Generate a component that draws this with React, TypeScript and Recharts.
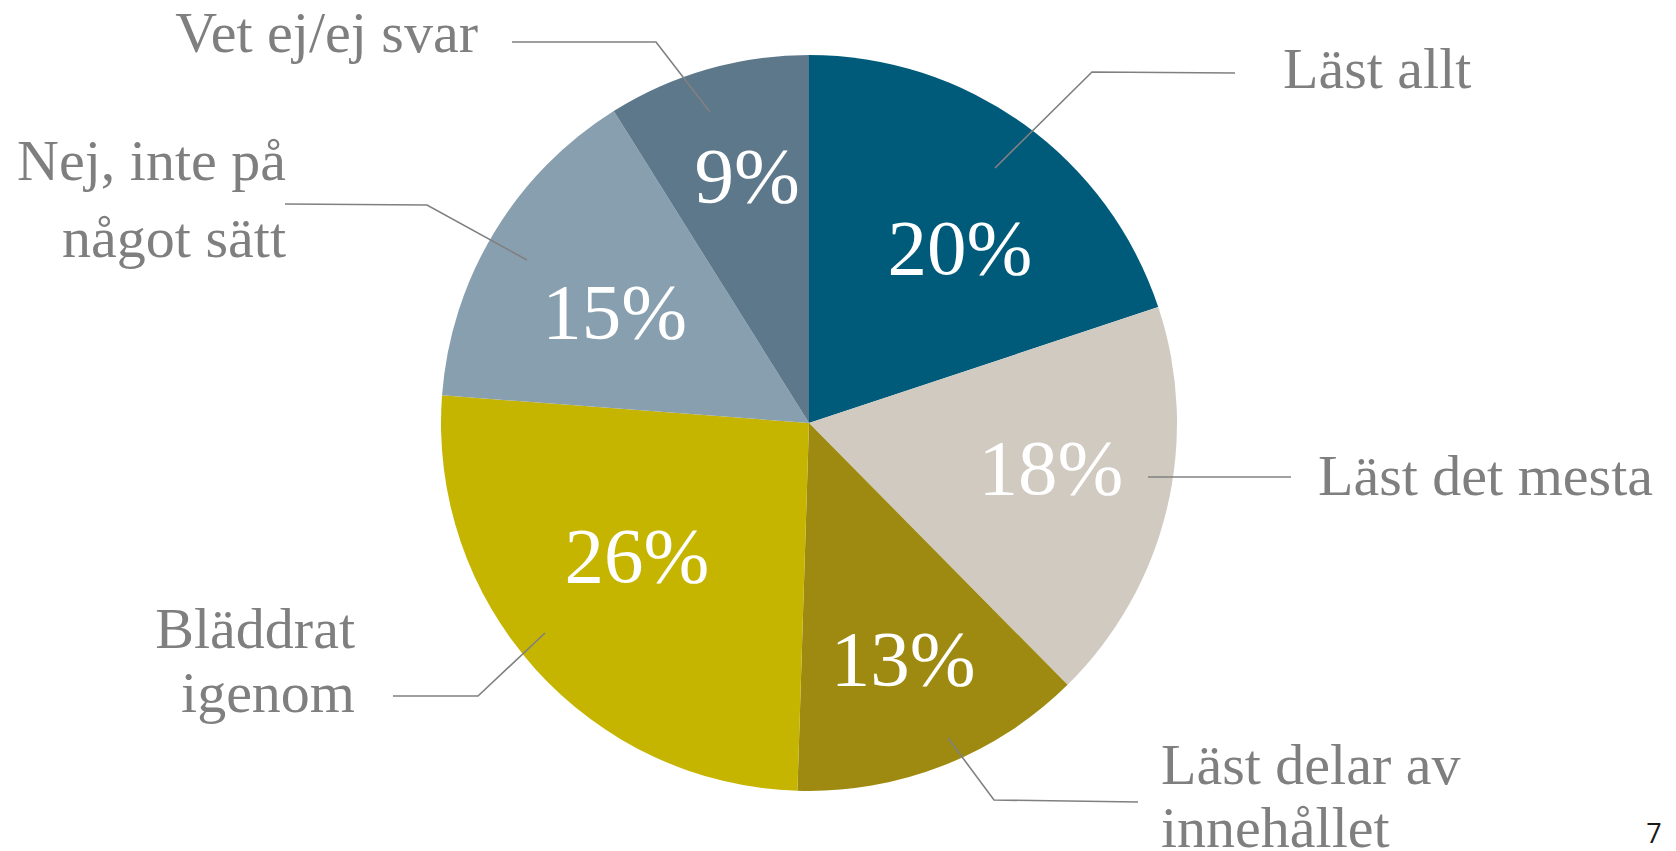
import React from 'react';
import { PieChart, Pie, Cell } from 'recharts';

const CATEGORIES = [
  'Läst allt',
  'Läst det mesta',
  'Läst delar av innehållet',
  'Bläddrat igenom',
  'Nej, inte på något sätt',
  'Vet ej/ej svar',
];
const SHARES = [19.9, 17.7, 12.9, 25.7, 14.9, 8.9];
const LABEL_LINES = [
  ['Läst allt'],
  ['Läst det mesta'],
  ['Läst delar av', 'innehållet'],
  ['Bläddrat', 'igenom'],
  ['Nej, inte på', 'något sätt'],
  ['Vet ej/ej svar'],
];

const COLORS = ['#005B7B', '#D0CAC0', '#9E8A10', '#C6B500', '#889FAF', '#5E788B'];

const data = CATEGORIES.map((name, i) => ({ name, value: SHARES[i] }));

// callout placement, offsets from the pie centre
const CALLOUTS = [
  { line: [[186, -255], [283, -351], [426, -350]], x: 474, y: [-335], anchor: 'start' },
  { line: [[339, 54], [482, 54]], x: 509, y: [72], anchor: 'start' },
  { line: [[139, 315], [185, 377], [329, 379]], x: 352, y: [361, 424], anchor: 'start' },
  { line: [[-264, 210], [-331, 273], [-416, 273]], x: -454, y: [225, 289], anchor: 'end' },
  { line: [[-282, -163], [-382, -218], [-524, -219]], x: -523, y: [-243, -166], anchor: 'end' },
  { line: [[-99, -311], [-153, -381], [-297, -381]], x: -331, y: [-371], anchor: 'end' },
];

// inner percentage label: fraction of radius, small turn from the mid angle
const INNER = [
  { r: 0.63, turn: 4.8 },
  { r: 0.668, turn: -3.2 },
  { r: 0.688, turn: -0.4 },
  { r: 0.59, turn: 4.4 },
  { r: 0.61, turn: -1.1 },
  { r: 0.695, turn: 2 },
];

const SERIF = '"Liberation Serif", "Times New Roman", serif';

const renderLabel = (props: any) => {
  const { cx, cy, midAngle, outerRadius, index, percent } = props;
  const c = CALLOUTS[index];
  const inner = INNER[index];
  const theta = ((90 - midAngle + inner.turn) * Math.PI) / 180;
  const ix = cx + inner.r * outerRadius * Math.sin(theta);
  const iy = cy - inner.r * outerRadius * Math.cos(theta);
  const pts = c.line.map(([dx, dy]) => `${cx + dx},${cy + dy}`).join(' ');
  return (
    <g>
      <polyline points={pts} fill="none" stroke="#808080" strokeWidth={1.6} />
      {LABEL_LINES[index].map((t, k) => (
        <text
          key={k}
          x={cx + c.x}
          y={cy + c.y[k]}
          textAnchor={c.anchor as any}
          fill="#7F7F7F"
          fontFamily={SERIF}
          fontSize={58}
        >
          {t}
        </text>
      ))}
      <text x={ix} y={iy + 27} textAnchor="middle" fill="#FFFFFF" fontFamily={SERIF} fontSize={79}>
        {`${Math.round(percent * 100)}%`}
      </text>
    </g>
  );
};

export default function App() {
  return (
    <div style={{ position: 'absolute', left: 0, top: 0, width: 1676, height: 851, background: '#fff' }}>
      <PieChart width={1676} height={851}>
        <Pie
          data={data}
          dataKey="value"
          cx={804}
          cy={418}
          outerRadius={368}
          startAngle={90}
          endAngle={-270}
          stroke="none"
          label={renderLabel}
          labelLine={false}
          isAnimationActive={false}
        >
          {data.map((d, i) => (
            <Cell key={d.name} fill={COLORS[i]} />
          ))}
        </Pie>
      </PieChart>
      <div
        style={{
          position: 'absolute',
          left: 1639,
          top: 814,
          width: 30,
          textAlign: 'center',
          fontFamily: '"Open Sans", sans-serif',
          fontSize: 27,
          color: '#1a1a1a',
        }}
      >
        7
      </div>
    </div>
  );
}
